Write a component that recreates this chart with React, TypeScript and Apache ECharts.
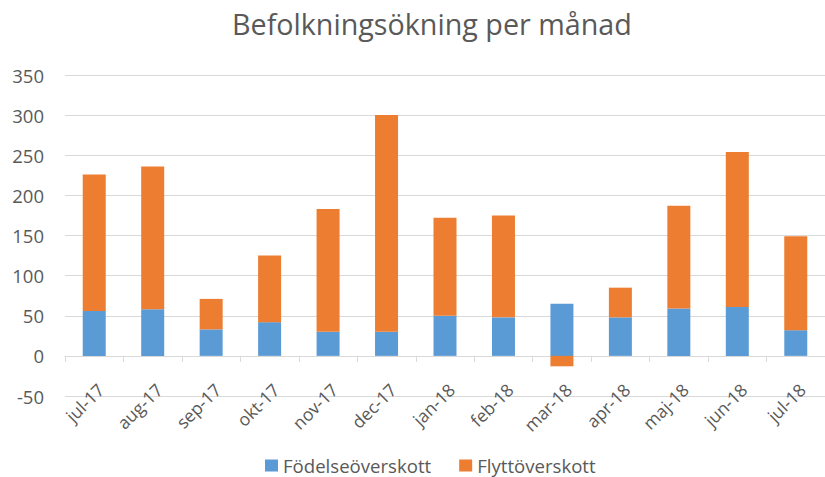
import React, { useEffect, useRef } from "react";
import * as echarts from "echarts";

const categories = ["jul-17", "aug-17", "sep-17", "okt-17", "nov-17", "dec-17", "jan-18", "feb-18", "mar-18", "apr-18", "maj-18", "jun-18", "jul-18"];
const fodelse = [56, 58, 33, 42, 30, 30, 50, 48, 65, 48, 59, 61, 32];
const flytt = [170, 178, 38, 83, 153, 270, 122, 127, -13, 37, 128, 193, 117];

const FONT = "Open Sans";
const GRAY = "#595959";

export default function App() {
  const ref = useRef<HTMLDivElement>(null);
  useEffect(() => {
    if (!ref.current) return;
    const chart = echarts.init(ref.current, undefined, { renderer: "svg" });
    chart.setOption({
      animation: false,
      title: {
        text: "Befolkningsökning per månad",
        left: 227,
        top: 4,
        textStyle: { fontFamily: FONT, fontSize: 28.7, fontWeight: "normal", color: GRAY },
      },
      legend: {
        top: 456,
        left: 265,
        itemWidth: 13,
        itemHeight: 12,
        itemGap: 28,
        icon: "rect",
        padding: 0,
        textStyle: { fontFamily: FONT, fontSize: 18.6, color: GRAY },
        data: ["Födelseöverskott", "Flyttöverskott"],
      },
      grid: { left: 65, right: -6, top: 75, bottom: 81, containLabel: false },
      xAxis: {
        type: "category",
        data: categories,
        axisLine: { lineStyle: { color: "#d9d9d9" } },
        axisTick: { show: true, length: 6, lineStyle: { color: "#d9d9d9" } },
        axisLabel: {
          rotate: 45,
          fontFamily: FONT,
          fontSize: 17.5,
          color: GRAY,
          margin: -16,
          align: "right",
          verticalAlign: "top",
        },
      },
      yAxis: {
        type: "value",
        min: -50,
        max: 350,
        interval: 50,
        axisLine: { show: false },
        axisTick: { show: false },
        splitLine: { lineStyle: { color: "#d9d9d9", width: 1 } },
        axisLabel: { fontFamily: FONT, fontSize: 18.5, color: GRAY, margin: 21 },
      },
      series: [
        {
          name: "Födelseöverskott",
          type: "bar",
          stack: "total",
          barWidth: 23,
          data: fodelse,
          itemStyle: { color: "#5b9bd5" },
        },
        {
          name: "Flyttöverskott",
          type: "bar",
          stack: "total",
          barWidth: 23,
          data: flytt,
          itemStyle: { color: "#ed7d31" },
        },
      ],
    });
    return () => chart.dispose();
  }, []);
  return <div ref={ref} style={{ width: 825, height: 477, position: "absolute", left: 0, top: 0 }} />;
}
